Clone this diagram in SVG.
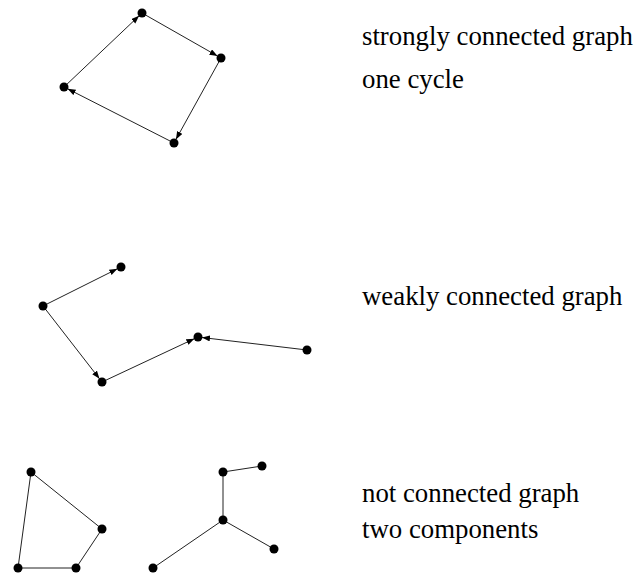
<svg xmlns="http://www.w3.org/2000/svg" width="635" height="576" viewBox="0 0 635 576">
<style>
.e{stroke:#222;stroke-width:1;fill:none}
.a{marker-end:url(#ah)}
.n{fill:#000}
.t{font-family:"Liberation Serif","Times New Roman",serif;font-size:26.8px;fill:#000}
</style>
<defs>
<marker id="ah" markerUnits="userSpaceOnUse" markerWidth="9" markerHeight="7" refX="8" refY="3" orient="auto">
<path d="M0,0 L8,3 L0,6 z" fill="#000"/>
</marker>
</defs>
<rect width="635" height="576" fill="#fff"/>
<g id="connectors">
<line class="e a" x1="64" y1="87" x2="139.1" y2="15.8"/>
<line class="e a" x1="142" y1="13" x2="217.5" y2="56"/>
<line class="e a" x1="221" y1="58" x2="175.9" y2="139.5"/>
<line class="e a" x1="174" y1="143" x2="67.6" y2="88.8"/>
<line class="e a" x1="43" y1="306" x2="117.4" y2="268.8"/>
<line class="e a" x1="43" y1="306" x2="99.5" y2="378.8"/>
<line class="e a" x1="102" y1="382" x2="194.4" y2="338.7"/>
<line class="e a" x1="307" y1="350" x2="202" y2="337.5"/>
<line class="e" x1="31" y1="472" x2="102" y2="529"/>
<line class="e" x1="102" y1="529" x2="76" y2="568"/>
<line class="e" x1="76" y1="568" x2="18" y2="568"/>
<line class="e" x1="18" y1="568" x2="31" y2="472"/>
<line class="e" x1="223" y1="472" x2="262" y2="466"/>
<line class="e" x1="223" y1="472" x2="223" y2="520"/>
<line class="e" x1="223" y1="520" x2="274" y2="549"/>
<line class="e" x1="223" y1="520" x2="153" y2="568"/>
</g>
<g id="g1a"><circle class="n" cx="142" cy="13" r="4.5"/></g>
<g id="g1b"><circle class="n" cx="221" cy="58" r="4.5"/></g>
<g id="g1c"><circle class="n" cx="174" cy="143" r="4.5"/></g>
<g id="g1d"><circle class="n" cx="64" cy="87" r="4.5"/></g>
<g id="g2a"><circle class="n" cx="121" cy="267" r="4.5"/></g>
<g id="g2b"><circle class="n" cx="43" cy="306" r="4.5"/></g>
<g id="g2c"><circle class="n" cx="102" cy="382" r="4.5"/></g>
<g id="g2d"><circle class="n" cx="198" cy="337" r="4.5"/></g>
<g id="g2e"><circle class="n" cx="307" cy="350" r="4.5"/></g>
<g id="g3a"><circle class="n" cx="31" cy="472" r="4.5"/></g>
<g id="g3b"><circle class="n" cx="102" cy="529" r="4.5"/></g>
<g id="g3c"><circle class="n" cx="76" cy="568" r="4.5"/></g>
<g id="g3d"><circle class="n" cx="18" cy="568" r="4.5"/></g>
<g id="g4a"><circle class="n" cx="223" cy="472" r="4.5"/></g>
<g id="g4b"><circle class="n" cx="262" cy="466" r="4.5"/></g>
<g id="g4c"><circle class="n" cx="223" cy="520" r="4.5"/></g>
<g id="g4d"><circle class="n" cx="274" cy="549" r="4.5"/></g>
<g id="g4e"><circle class="n" cx="153" cy="568" r="4.5"/></g>
<g id="labels">
<text class="t" x="362" y="45">strongly connected graph</text>
<text class="t" x="362" y="88">one cycle</text>
<text class="t" x="362" y="305">weakly connected graph</text>
<text class="t" x="362" y="502">not connected graph</text>
<text class="t" x="362" y="538">two components</text>
</g>
</svg>
